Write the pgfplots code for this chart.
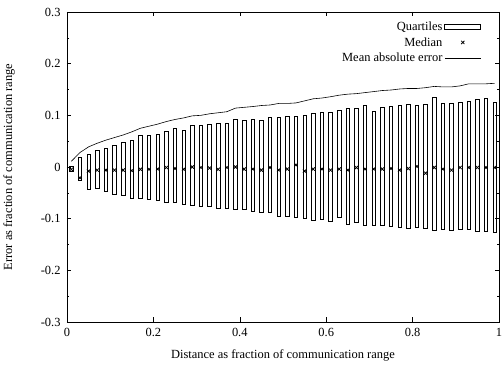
\documentclass[border=0pt]{standalone}
\usepackage{fontspec}
\setmainfont{Liberation Serif}
\usepackage{pgfplots}
\usepackage{pgfplotstable}
\pgfplotsset{compat=1.18}
\pgfplotstableread{
x lo hi med mae
0.01 -0.009 0.001 -0.0045 0.011
0.03 -0.025 0.019 -0.021 0.028
0.05 -0.043 0.025 -0.008 0.039
0.07 -0.041 0.033 -0.006 0.046
0.09 -0.048 0.037 -0.006 0.052
0.11 -0.053 0.041 -0.006 0.057
0.13 -0.055 0.048 -0.006 0.062
0.15 -0.061 0.051 -0.007 0.068
0.17 -0.061 0.061 -0.0045 0.075
0.19 -0.062 0.061 -0.0045 0.079
0.21 -0.065 0.064 -0.004 0.083
0.23 -0.069 0.069 -0.001 0.088
0.25 -0.069 0.074 -0.003 0.092
0.27 -0.072 0.071 -0.0045 0.095
0.29 -0.075 0.081 0.000 0.099
0.31 -0.077 0.080 -0.001 0.100
0.33 -0.077 0.083 -0.002 0.103
0.35 -0.080 0.084 -0.0045 0.105
0.37 -0.080 0.085 -0.001 0.107
0.39 -0.081 0.092 0.000 0.114
0.41 -0.081 0.091 -0.004 0.1155
0.43 -0.085 0.092 -0.004 0.117
0.45 -0.087 0.090 -0.006 0.119
0.47 -0.088 0.096 -0.001 0.120
0.49 -0.095 0.096 -0.006 0.123
0.51 -0.096 0.0987 -0.004 0.123
0.53 -0.097 0.0987 0.004 0.124
0.55 -0.099 0.100 -0.008 0.128
0.57 -0.103 0.104 -0.004 0.132
0.59 -0.101 0.105 -0.004 0.1335
0.61 -0.105 0.106 -0.006 0.136
0.63 -0.098 0.110 -0.004 0.139
0.65 -0.111 0.113 -0.006 0.141
0.67 -0.108 0.113 -0.001 0.142
0.69 -0.112 0.119 -0.004 0.144
0.71 -0.112 0.107 -0.004 0.146
0.73 -0.112 0.115 -0.004 0.148
0.75 -0.114 0.117 -0.003 0.149
0.77 -0.116 0.119 -0.006 0.151
0.79 -0.119 0.121 -0.003 0.152
0.81 -0.116 0.120 0.001 0.152
0.83 -0.118 0.121 -0.012 0.1535
0.85 -0.123 0.135 -0.001 0.156
0.87 -0.121 0.123 -0.004 0.155
0.89 -0.123 0.124 -0.006 0.155
0.91 -0.120 0.126 -0.001 0.157
0.93 -0.121 0.128 -0.001 0.161
0.95 -0.125 0.130 -0.001 0.161
0.97 -0.125 0.133 -0.001 0.161
0.99 -0.126 0.126 -0.001 0.162
}\data
\pgfplotsset{
  common/.style={
    scale only axis,
    width=432bp, height=310bp,
    xmin=0, xmax=1,
  }
}
\begin{document}
\begin{tikzpicture}
% boxes: stacked on an offset of +1 so that every stacked value is positive
\begin{axis}[common, ymin=0.7, ymax=1.3, hide axis, ybar stacked, bar width=0.008]
\addplot[draw=none, fill=none] table[x=x, y expr=\thisrow{lo}+1] {\data};
\addplot[draw=black, fill=white, line width=0.7pt] table[x=x, y expr=\thisrow{hi}-\thisrow{lo}] {\data};
\end{axis}
\begin{axis}[common, ymin=-0.3, ymax=0.3,
  axis line style={line width=0.8pt},
  tick style={black, line width=0.6pt},
  tick align=inside,
  major tick length=4.5bp, minor tick length=2.5bp,
  xtick={0,0.2,0.4,0.6,0.8,1},
  xticklabels={0,0.2,0.4,0.6,0.8,1},
  ytick={-0.3,-0.2,-0.1,0,0.1,0.2,0.3},
  yticklabels={-0.3,-0.2,-0.1,0,0.1,0.2,0.3},
  minor ytick={-0.25,-0.15,-0.05,0.05,0.15,0.25},
  tick label style={font=\fontsize{12.5}{15}\selectfont},
  yticklabel style={xshift=-3bp},
  xticklabel style={yshift=-3bp},
  label style={font=\fontsize{12.5}{15}\selectfont},
  xlabel={Distance as fraction of communication range},
  ylabel={Error as fraction of communication range},
  xlabel style={yshift=-6bp},
  ylabel shift=19bp,
  legend style={draw=none, fill=none, at={(0.966,0.982)}, anchor=north east,
    font=\fontsize{12.5}{15}\selectfont, row sep=1.5bp, cells={anchor=east}},
  legend plot pos=right,
]
\addlegendimage{legend image code/.code={\path[draw=none,fill=none] (0cm,-0.1cm) rectangle (1.27cm,0.1cm);\draw[black, line width=0.7pt, fill=white] (0cm,-0.075cm) rectangle (1.27cm,0.075cm);}}
\addlegendentry{Quartiles}
\addplot[only marks, mark=x, mark size=2.3pt, black, line width=0.8pt,
  legend image code/.code={\path[draw=none,fill=none] (0cm,-0.1cm) rectangle (1.27cm,0.1cm);\draw[black, line width=0.8pt] plot[only marks, mark=x, mark size=2.3pt] coordinates {(0.635cm,0cm)};}]
  table[x=x, y=med] {\data};
\addlegendentry{Median}
\addplot[black, line width=0.6pt,
  legend image code/.code={\path[draw=none,fill=none] (0cm,-0.1cm) rectangle (1.27cm,0.1cm);\draw[black, line width=0.6pt] (0cm,0cm) -- (1.27cm,0cm);}]
  table[x=x, y=mae] {\data};
\addlegendentry{Mean absolute error}
\end{axis}
\pgfresetboundingbox
\path ([xshift=-67bp,yshift=-43bp]current axis.south west) rectangle ([xshift=4bp,yshift=12bp]current axis.north east);
\end{tikzpicture}
\end{document}
